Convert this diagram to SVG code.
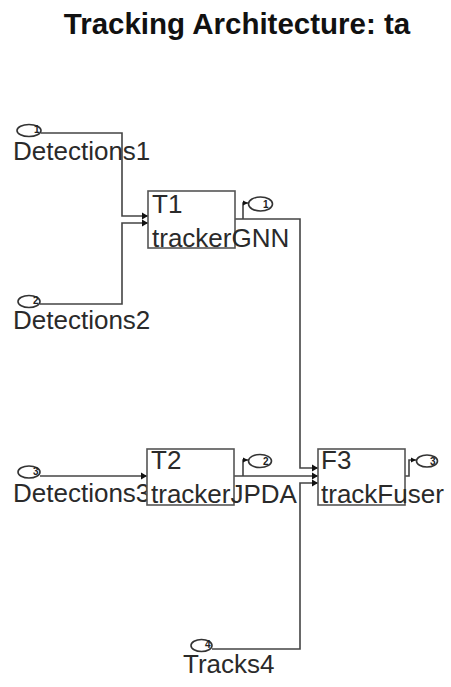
<svg xmlns="http://www.w3.org/2000/svg" width="451" height="687" viewBox="0 0 451 687">
  <defs>
    <marker id="arr" markerUnits="userSpaceOnUse" markerWidth="7" markerHeight="8" refX="6" refY="4" orient="auto">
      <path d="M0,0.5 L6,4 L0,7.5 z" fill="#111"/>
    </marker>
    <marker id="arrs" markerUnits="userSpaceOnUse" markerWidth="6" markerHeight="6" refX="5" refY="3" orient="auto">
      <path d="M0,0.5 L5,3 L0,5.5 z" fill="#111"/>
    </marker>
  </defs>
  <style>
    .title { font-family: "Liberation Sans", Arial, sans-serif; font-weight: bold; font-size: 29.5px; fill: #111; }
    .lbl { font-family: "Liberation Sans", Arial, sans-serif; font-size: 26px; fill: #2a2a2a; }
    .pnum { font-family: "Liberation Sans", Arial, sans-serif; font-size: 10px; font-weight: bold; fill: #222; }
    .blk { fill: #fff; stroke: #555; stroke-width: 1.6; }
    .port { fill: none; stroke: #333; stroke-width: 1.6; }
    .wire { fill: none; stroke: #444; stroke-width: 1.6; }
  </style>
  <rect width="451" height="687" fill="#fff"/>
  <text class="title" x="237" y="34" text-anchor="middle">Tracking Architecture: ta</text>

  <g id="connectors">
    <path class="wire" d="M41,133 H122 V216 H148" marker-end="url(#arr)"/>
    <path class="wire" d="M40,304 H122 V223 H148" marker-end="url(#arr)"/>
    <path class="wire" d="M40,476 H147" marker-end="url(#arr)"/>
    <path class="wire" d="M235,219 H300 V468 H318" marker-end="url(#arr)"/>
    <path class="wire" d="M243,219 V203 H248" marker-end="url(#arrs)"/>
    <path class="wire" d="M234,476 H318" marker-end="url(#arr)"/>
    <path class="wire" d="M243,476 V460 H248" marker-end="url(#arrs)"/>
    <path class="wire" d="M212,649 H300 V483 H318" marker-end="url(#arr)"/>
    <path class="wire" d="M405,476 H409 V460 H416" marker-end="url(#arrs)"/>
  </g>

  <g id="Detections1">
    <ellipse class="port" cx="29" cy="130.5" rx="12" ry="6"/>
    <text class="pnum" x="34" y="133">1</text>
    <text class="lbl" x="13" y="160">Detections1</text>
  </g>
  <g id="Detections2">
    <ellipse class="port" cx="29" cy="301.5" rx="11" ry="6"/>
    <text class="pnum" x="33" y="304">2</text>
    <text class="lbl" x="13" y="329">Detections2</text>
  </g>
  <g id="Detections3">
    <ellipse class="port" cx="29" cy="472" rx="11" ry="6"/>
    <text class="pnum" x="33" y="475">3</text>
    <text class="lbl" x="13" y="502">Detections3</text>
  </g>
  <g id="Tracks4">
    <ellipse class="port" cx="201.5" cy="645.5" rx="10.5" ry="6"/>
    <text class="pnum" x="205" y="648">4</text>
    <text class="lbl" x="183" y="673">Tracks4</text>
  </g>

  <g id="T1">
    <rect class="blk" x="148" y="191" width="87" height="57"/>
    <text class="lbl" x="152" y="213">T1</text>
    <text class="lbl" x="152" y="247">trackerGNN</text>
  </g>
  <g id="T1_out">
    <ellipse class="port" cx="260.5" cy="204" rx="12" ry="7"/>
    <text class="pnum" x="263" y="208">1</text>
  </g>

  <g id="T2">
    <rect class="blk" x="147" y="449" width="87" height="56"/>
    <text class="lbl" x="151" y="469">T2</text>
    <text class="lbl" x="151" y="503">trackerJPDA</text>
  </g>
  <g id="T2_out">
    <ellipse class="port" cx="260" cy="461" rx="11.5" ry="6.5"/>
    <text class="pnum" x="263" y="465">2</text>
  </g>

  <g id="F3">
    <rect class="blk" x="318" y="449" width="87" height="56"/>
    <text class="lbl" x="321" y="469">F3</text>
    <text class="lbl" x="321" y="503">trackFuser</text>
  </g>
  <g id="F3_out">
    <ellipse class="port" cx="427" cy="461" rx="10.5" ry="6"/>
    <text class="pnum" x="430" y="465">3</text>
  </g>
</svg>
